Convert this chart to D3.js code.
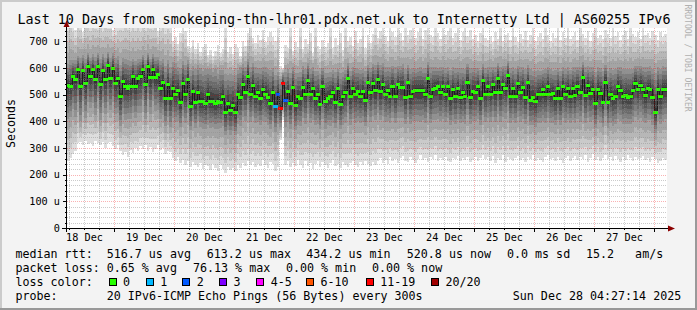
<!DOCTYPE html>
<html><head><meta charset="utf-8">
<script src="https://cdn.jsdelivr.net/npm/d3@7"></script>
<style>
html,body{margin:0;padding:0;background:#f3f3f3;}
svg{display:block;}
text{font-family:"DejaVu Sans Mono",monospace;fill:#000;white-space:pre;}
</style></head><body>
<svg id="c" width="697" height="310"></svg>
<script>
// ---------------- data ----------------
const title = "Last 10 Days from smokeping-thn-lhr01.pdx.net.uk to Internetty Ltd | AS60255 IPv6";
const startTime = Date.UTC(2025, 11, 18, 5, 12);
const endTime = Date.UTC(2025, 11, 28, 5, 12);
const stepHours = 1;
const yTicks = [0, 100, 200, 300, 400, 500, 600, 700];
const dayNumbers = [18, 19, 20, 21, 22, 23, 24, 25, 26, 27];

// median rtt per hour (microseconds)
const medianRtt = [
 537,534,571,557,595,534,591,542,609,569,595,557,606,541,591,557,613,561,601,545,564,494,552,534,526,534,569,534,561,571,597,541,609,567,597,567,577,526,549,487,540,487,
 526,501,519,474,545,501,557,459,515,474,510,477,477,467,501,477,477,467,477,474,495,436,470,444,462,434,504,490,541,511,571,501,537,496,511,486,522,504,492,467,
 509,459,501,451,542,481,515,470,530,462,494,486,530,501,554,504,526,486,501,466,531,477,486,496,511,474,524,466,494,509,561,496,526,504,515,496,515,481,549,509,
 544,516,559,512,540,504,517,496,534,496,539,530,530,490,546,494,512,517,517,517,517,501,561,494,521,526,531,509,531,501,531,486,521,496,526,490,511,494,549,490,
 515,511,531,486,554,504,531,504,539,509,561,509,539,526,572,496,524,496,542,511,527,490,546,481,490,477,501,504,520,501,534,501,505,486,524,486,531,504,524,496,
 524,499,532,511,567,499,536,507,520,468,520,505,474,549,474,502,486,495,532,517,495,499,492,495,517,545,520,536,520,499,524,520,492,436,520,495,520,521
];
// fastest ping per hour
const smokeMin = [
 250,262,278,290,318,322,312,326,316,320,308,326,318,312,324,300,318,322,308,296,312,288,272,284,268,292,280,300,288,306,296,312,290,304,284,298,310,292,300,276,290,284,
 262,250,268,244,256,238,252,230,246,236,228,244,222,238,232,218,240,226,214,236,220,208,230,216,224,212,238,226,244,232,250,236,246,228,240,232,254,238,226,246,
 240,215,228,330,405,236,250,228,244,232,256,238,226,250,234,244,222,240,252,230,246,236,224,242,254,232,240,226,248,236,230,244,252,238,228,246,236,250,240,232,
 246,238,252,262,244,256,240,268,250,258,244,262,270,252,248,266,256,244,260,272,254,262,248,268,258,274,250,262,256,268,252,246,264,258,270,250,262,254,266,248,
 256,268,250,262,274,258,266,252,270,244,262,256,272,248,266,258,250,264,270,254,262,246,268,258,272,252,264,256,248,266,274,258,262,250,268,256,244,262,270,252,
 262,270,254,266,258,272,248,264,276,256,268,250,262,274,258,266,252,270,260,248,266,256,272,262,250,268,258,264,270,254,262,248,266,258,244,252,262,256
];
// slowest ping per hour
const smokeMax = [
 780,790,770,742,785,776,736,790,782,770,795,780,772,788,760,790,776,784,744,752,770,786,774,790,780,772,788,776,790,770,782,776,790,784,772,786,740,778,790,770,784,776,
 700,716,690,730,760,740,684,676,706,670,694,660,678,690,650,668,646,664,688,656,672,760,660,680,652,690,676,646,702,684,730,760,712,694,722,704,744,698,716,734,
 716,700,760,607,600,688,676,760,662,698,680,760,672,708,690,730,658,760,684,670,704,680,694,760,674,712,686,732,666,760,700,718,682,740,692,708,760,676,722,694,
 726,760,712,740,760,720,702,760,736,716,760,730,706,760,722,744,760,714,734,760,710,742,760,724,716,760,732,708,760,722,738,760,714,730,760,706,734,760,720,742,
 708,724,700,730,760,712,704,720,696,736,710,760,702,722,732,706,760,716,698,726,710,740,704,724,760,700,716,732,708,760,722,702,730,712,760,706,734,714,760,710,
 720,736,706,760,726,712,740,702,730,760,714,724,708,744,728,712,760,720,734,704,724,740,710,760,726,716,736,708,760,722,732,712,740,724,706,734,718,726
];
// distance from median down to the 5th ping / up to the 16th ping
const coreLow = [
 130,118,126,140,122,134,116,128,138,120,126,132,118,136,124,130,142,120,128,116,134,110,124,130,118,126,136,122,128,140,118,132,126,138,120,128,134,116,126,104,122,108,
 112,104,118,96,124,108,126,92,114,100,110,98,104,96,116,102,98,94,104,100,112,88,102,94,98,86,114,106,124,110,130,104,118,102,112,100,120,108,104,96,
 108,100,110,71,92,104,116,98,120,96,108,102,118,110,126,112,120,100,110,96,122,104,100,112,116,98,118,96,106,114,128,108,118,110,114,104,116,100,124,112,
 124,112,128,108,120,106,114,102,122,104,126,118,116,100,128,104,112,114,116,118,112,106,130,102,116,120,124,108,122,104,120,100,118,106,122,98,112,104,126,100,
 114,110,122,100,130,108,120,106,124,112,132,110,124,116,134,102,118,104,126,112,120,100,126,96,102,98,108,110,118,106,122,108,110,100,118,100,120,110,118,104,
 118,106,122,112,134,104,124,110,116,94,116,110,96,128,98,108,102,106,122,116,104,108,102,106,118,130,116,124,118,106,120,116,104,80,118,106,118,114
];
const coreHigh = [
 78,96,60,72,50,104,58,92,48,70,56,86,52,94,62,82,46,76,54,92,80,118,84,98,104,92,66,94,72,62,52,90,48,68,56,74,64,102,84,120,90,116,
 96,118,84,126,80,112,72,134,92,124,100,122,112,130,94,118,108,128,100,120,96,140,104,132,110,138,90,112,74,94,62,104,80,106,88,114,82,98,104,126,
 92,116,84,109,40,104,80,112,72,118,88,100,76,94,66,92,78,104,88,112,70,106,96,88,80,110,74,114,90,84,58,92,76,96,82,98,80,106,64,92,
 72,94,64,98,78,100,86,108,74,106,70,78,84,106,66,104,88,80,84,86,80,100,60,108,82,76,70,96,74,100,72,108,82,104,74,110,88,102,66,110,
 84,88,70,106,62,96,74,100,64,94,58,96,70,80,56,104,78,100,66,92,78,108,64,114,100,110,90,86,72,96,70,94,84,106,76,104,72,92,78,98,
 80,104,72,94,54,104,70,96,84,118,82,96,116,64,114,98,106,100,72,86,100,98,104,100,78,62,86,72,84,104,78,86,104,146,84,100,86,84
];
// hours with lost pings
const lossIndex = [83, 84, 85, 86, 87];
const lossCount = [1, 2, 15, 12, 2];

const lossLabels = ["0", "1", "2", "3", "4-5", "6-10", "11-19", "20/20"];
const lossColors = ["#26ff00", "#00b8ff", "#0059ff", "#7e00ff", "#ff00ff", "#ff5500", "#ff0000", "#a00000"];
const rttStats = ["median rtt:  516.7 us avg", "613.2 us max", "434.2 us min", "520.8 us now", "0.0 ms sd", "15.2   am/s"];
const lossStats = ["packet loss: 0.65 % avg", "76.13 % max", "0.00 % min", "0.00 % now"];
const probeText = ["probe:", "20 IPv6-ICMP Echo Pings (56 Bytes) every 300s", "Sun Dec 28 04:27:14 2025"];

// ---------------- layout ----------------
const W = 697, H = 310;
const PL = 67, PR = 667, PT = 28, PB = 228;
const svg = d3.select("#c");
const x = d3.scaleUtc().domain([startTime, endTime]).range([PL, PR]);
const y = d3.scaleLinear().domain([0, 750]).range([PB, PT]);
const tAt = i => new Date(startTime + i * stepHours * 3600000);

svg.append("rect").attr("width", W).attr("height", H).attr("fill", "#f3f3f3");
svg.append("rect").attr("x", 0).attr("y", 0).attr("width", W).attr("height", 2).attr("fill", "#cbcbcb");
svg.append("rect").attr("x", 0).attr("y", 0).attr("width", 2).attr("height", H).attr("fill", "#cbcbcb");
svg.append("rect").attr("x", 0).attr("y", H - 2).attr("width", W).attr("height", 2).attr("fill", "#999999");
svg.append("rect").attr("x", W - 2).attr("y", 0).attr("width", 2).attr("height", H).attr("fill", "#999999");

svg.append("rect").attr("x", PL).attr("y", PT).attr("width", PR - PL).attr("height", PB - PT).attr("fill", "#ffffff");
svg.append("clipPath").attr("id", "clip").append("rect")
  .attr("x", PL).attr("y", PT).attr("width", PR - PL).attr("height", PB - PT);

// ---------------- smoke ----------------
const lossOf = i => { const k = lossIndex.indexOf(i); return k < 0 ? 0 : lossCount[k]; };
function pingAt(i, k) {
  const K = [1, 5, 10.5, 16, 20];
  const V = [smokeMin[i], medianRtt[i] - coreLow[i], medianRtt[i], medianRtt[i] + coreHigh[i], smokeMax[i]];
  for (let j = 0; j < K.length - 1; j++) {
    if (k <= K[j + 1]) return V[j] + (V[j + 1] - V[j]) * (k - K[j]) / (K[j + 1] - K[j]);
  }
  return V[V.length - 1];
}
const smokeRects = [];
medianRtt.forEach((m, i) => {
  const x0 = Math.floor(x(tAt(i))), x1 = Math.floor(x(tAt(i + 1)));
  for (let ibot = 1; ibot <= 10; ibot++) {
    const lo = pingAt(i, ibot), hi = pingAt(i, 21 - ibot);
    const g = Math.floor(190 / 10 * (10 - ibot)) + 50;
    smokeRects.push({x0, x1, y0: Math.round(y(hi)), y1: Math.round(y(lo)), c: `rgb(${g},${g},${g})`});
  }
});
const plot = svg.append("g").attr("clip-path", "url(#clip)");
plot.append("g").attr("shape-rendering", "crispEdges").selectAll("rect").data(smokeRects).join("rect")
  .attr("x", d => d.x0).attr("width", d => d.x1 - d.x0)
  .attr("y", d => d.y0).attr("height", d => Math.max(1, d.y1 - d.y0))
  .attr("fill", d => d.c);

const linePts = medianRtt.map((m, i) => [x(tAt(i)), y(m)]);
linePts.push([x(tAt(medianRtt.length)), y(medianRtt[medianRtt.length - 1])]);
plot.append("path").attr("d", d3.line().curve(d3.curveStepAfter)(linePts))
  .attr("fill", "none").attr("stroke", "#1e1e1e").attr("stroke-width", 1).attr("shape-rendering", "crispEdges");

function lossColor(n) {
  if (n <= 0) return lossColors[0];
  if (n === 1) return lossColors[1];
  if (n === 2) return lossColors[2];
  if (n === 3) return lossColors[3];
  if (n <= 5) return lossColors[4];
  if (n <= 10) return lossColors[5];
  if (n <= 19) return lossColors[6];
  return lossColors[7];
}
plot.append("g").attr("shape-rendering", "crispEdges").selectAll("rect").data(medianRtt).join("rect")
  .attr("x", (d, i) => Math.floor(x(tAt(i))) - 1)
  .attr("width", (d, i) => Math.floor(x(tAt(i + 1))) - Math.floor(x(tAt(i))) + 2)
  .attr("y", d => Math.round(y(d)) - 1)
  .attr("height", 3)
  .attr("fill", (d, i) => lossColor(lossOf(i)));

// ---------------- grid ----------------
const grid = svg.append("g").attr("shape-rendering", "crispEdges");
const midnights = d3.utcDay.range(new Date(startTime), new Date(endTime));
const sixHours = d3.utcHour.every(6).range(new Date(startTime), new Date(endTime)).filter(d => d.getUTCHours() !== 0);
const minorY = d3.range(20, 751, 20).filter(v => v % 100 !== 0);
const minorC = "rgba(140,140,140,0.45)", majorC = "rgba(235,0,0,0.3)";
grid.selectAll(".mx").data(sixHours).join("line")
  .attr("x1", d => Math.round(x(d)) + 0.5).attr("x2", d => Math.round(x(d)) + 0.5)
  .attr("y1", PT).attr("y2", PB).attr("stroke", minorC).attr("stroke-dasharray", "1,1");
grid.selectAll(".my").data(minorY).join("line")
  .attr("x1", PL).attr("x2", PR)
  .attr("y1", d => Math.round(y(d)) + 0.5).attr("y2", d => Math.round(y(d)) + 0.5)
  .attr("stroke", minorC).attr("stroke-dasharray", "1,1");
grid.selectAll(".Mx").data(midnights).join("line")
  .attr("x1", d => Math.round(x(d)) + 0.5).attr("x2", d => Math.round(x(d)) + 0.5)
  .attr("y1", PT).attr("y2", PB).attr("stroke", majorC).attr("stroke-dasharray", "1,1");
grid.selectAll(".My").data(yTicks.filter(v => v > 0)).join("line")
  .attr("x1", PL).attr("x2", PR)
  .attr("y1", d => Math.round(y(d)) + 0.5).attr("y2", d => Math.round(y(d)) + 0.5)
  .attr("stroke", majorC).attr("stroke-dasharray", "1,1");

// ---------------- axes ----------------
const ax = svg.append("g").attr("shape-rendering", "crispEdges");
ax.append("line").attr("x1", 62).attr("x2", 670).attr("y1", PB + 0.5).attr("y2", PB + 0.5).attr("stroke", "#000");
ax.append("line").attr("x1", PL - 0.5).attr("x2", PL - 0.5).attr("y1", 232).attr("y2", 24).attr("stroke", "#000");
ax.selectAll(".ty").data(yTicks).join("line")
  .attr("x1", PL - 4).attr("x2", PL).attr("y1", d => Math.round(y(d)) + 0.5).attr("y2", d => Math.round(y(d)) + 0.5).attr("stroke", "#000");
ax.selectAll(".tyn").data(minorY).join("line")
  .attr("x1", PL - 2).attr("x2", PL).attr("y1", d => Math.round(y(d)) + 0.5).attr("y2", d => Math.round(y(d)) + 0.5).attr("stroke", "#000");
ax.selectAll(".tx").data(midnights).join("line")
  .attr("x1", d => Math.round(x(d)) + 0.5).attr("x2", d => Math.round(x(d)) + 0.5).attr("y1", PB).attr("y2", PB + 4).attr("stroke", "#000");
ax.selectAll(".txn").data(sixHours).join("line")
  .attr("x1", d => Math.round(x(d)) + 0.5).attr("x2", d => Math.round(x(d)) + 0.5).attr("y1", PB).attr("y2", PB + 2).attr("stroke", "#000");
svg.append("path").attr("d", "M66.5,20.5 L63.5,27 L69.5,27 Z").attr("fill", "#8b0000");
svg.append("path").attr("d", "M675,228.5 L668,225.5 L668,231.5 Z").attr("fill", "#8b0000");

const yAxis = d3.axisLeft(y).tickValues(yTicks).tickSize(0).tickPadding(7)
  .tickFormat(v => v === 0 ? "0" : v + " u");
const gy = svg.append("g").attr("transform", `translate(${PL},0)`).call(yAxis);
gy.select(".domain").remove();
gy.selectAll("text").attr("font-family", "DejaVu Sans Mono").attr("font-size", "10.2px").attr("fill", "#000");

const noonDates = dayNumbers.map(d => new Date(Date.UTC(2025, 11, d, 12, 0)));
const xAxis = d3.axisBottom(x).tickValues(noonDates).tickSize(0).tickPadding(5.5)
  .tickFormat(d3.utcFormat("%d %b"));
const gx = svg.append("g").attr("transform", `translate(0,${PB})`).call(xAxis);
gx.select(".domain").remove();
gx.selectAll("text").attr("font-family", "DejaVu Sans Mono").attr("font-size", "10.2px").attr("fill", "#000");

// ---------------- texts ----------------
svg.append("text").attr("x", 344).attr("y", 24).attr("text-anchor", "middle")
  .attr("font-size", "13.4px").text(title);
svg.append("text").attr("transform", "translate(15,123.5) rotate(-90)").attr("text-anchor", "middle")
  .attr("font-size", "11.6px").text("Seconds");
svg.append("text").attr("transform", "translate(684.5,4.5) rotate(90)")
  .attr("font-size", "8.1px").style("fill", "#b0b0b0").text("RRDTOOL / TOBI OETIKER");

const LF = "11.66px";
const rttX = [15.5, 206.8, 306.3, 406.8, 507, 586];
rttStats.forEach((s, k) => svg.append("text").attr("x", rttX[k]).attr("y", 257.5).attr("font-size", LF).text(s));
const lossX = [15.5, 193, 286, 372];
lossStats.forEach((s, k) => svg.append("text").attr("x", lossX[k]).attr("y", 271.6).attr("font-size", LF).text(s));
svg.append("text").attr("x", 15.5).attr("y", 286).attr("font-size", LF).text("loss color:");
const boxX = [108.5, 145.7, 182.3, 219, 256.3, 306, 365.7, 431];
lossLabels.forEach((s, k) => {
  svg.append("rect").attr("x", Math.round(boxX[k]) + 0.5).attr("y", 278.5).attr("width", 7).attr("height", 7)
    .attr("fill", lossColors[k]).attr("stroke", "#000").attr("stroke-width", 1);
  svg.append("text").attr("x", boxX[k] + 14.5).attr("y", 286).attr("font-size", LF).text(s);
});
const probeX = [15.5, 106.8, 512.8];
probeText.forEach((s, k) => svg.append("text").attr("x", probeX[k]).attr("y", 300).attr("font-size", LF).text(s));
</script>
</body></html>
